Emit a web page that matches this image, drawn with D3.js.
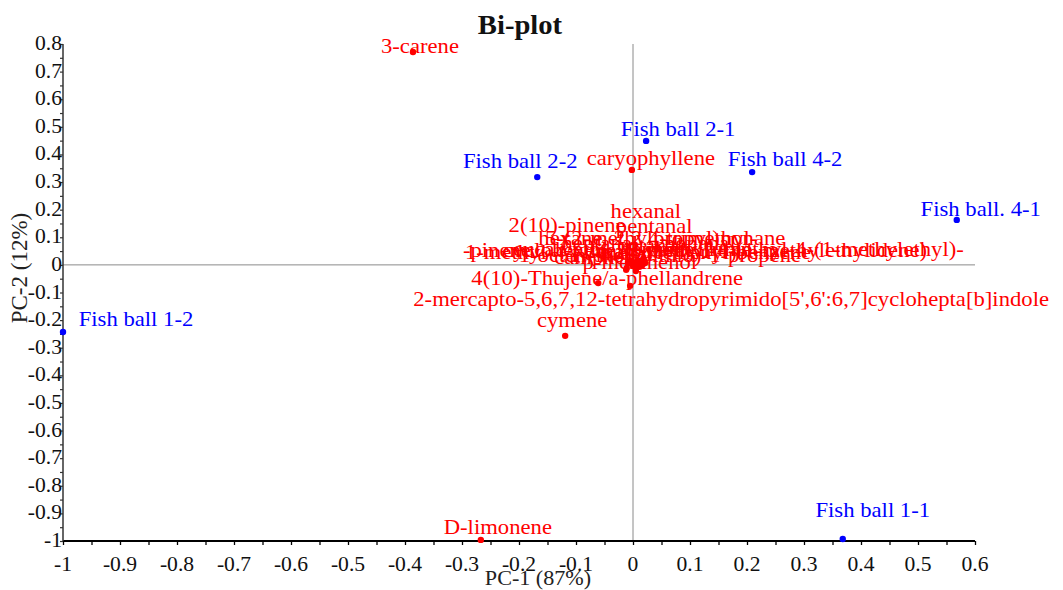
<!DOCTYPE html>
<html>
<head>
<meta charset="utf-8">
<script src="https://cdn.jsdelivr.net/npm/d3@7"></script>
<style>
  body { margin: 0; background: #fff; }
</style>
</head>
<body>
<svg id="chart" width="1063" height="590"></svg>
<script>
// ---- scores (samples) ----
const sampleNames = ["Fish ball 1-1", "Fish ball 1-2", "Fish ball 2-1", "Fish ball 2-2", "Fish ball 4-2", "Fish ball. 4-1"];
const samplePC1 = [0.368, -1.0, 0.023, -0.168, 0.209, 0.568];
const samplePC2 = [-0.993, -0.243, 0.449, 0.318, 0.336, 0.163];

// ---- loadings (volatile compounds) ----
const compoundNames = [
  "3-carene", "caryophyllene", "cymene", "D-limonene",
  "4(10)-Thujene/a-phellandrene",
  "2-mercapto-5,6,7,12-tetrahydropyrimido[5',6':6,7]cyclohepta[b]indole",
  "hexanal", "pentanal", "2(10)-pinene", "hexane, 2,2,4-trimethyl-",
  "5-(2-methylpropyl)nonane", "-pinene", "1-methyl-4-(1-methylethenyl)benzene",
  "benzene, 1-methyl-4-(1-methylethyl)-", "cyclohexene, 1-methyl-4-(1-methylethylidene)",
  "1-(methylthio)-1-propene", "p-menthenol", "heptanal", "octanal", "1-octen-3-ol",
  "2-pentylfuran", "camphene", "nonanal", "linalool", "eucalyptol"
];
const compoundPC1 = [
  -0.386, -0.002, -0.119, -0.267,
  -0.061,
  -0.005,
  0.012, 0.018, -0.005, 0.005,
  0.009, -0.009, 0.0,
  0.021, 0.014,
  0.011, 0.005, -0.002, 0.007, -0.011,
  0.016, -0.012, 0.019, 0.005, 0.002
];
const compoundPC2 = [
  0.771, 0.344, -0.257, -0.996,
  -0.066,
  -0.076,
  0.011, 0.022, 0.014, 0.003,
  -0.004, 0.007, -0.004,
  0.007, -0.004,
  -0.007, -0.022, 0.003, 0.011, -0.011,
  -0.001, -0.018, 0.011, -0.011, 0.007
];

// ---- axes ----
const xTicks = d3.range(-10, 7).map(i => i / 10);
const yTicks = d3.range(-10, 9).map(i => i / 10);
const xMinor = d3.range(-20, 13).map(i => i / 20);
const yMinor = d3.range(-20, 17).map(i => i / 20);

// label nudges in pixels: [dx of label centre, dy of baseline] relative to the point
const labelNudge = {
  "Fish ball 1-1": [30, -22], "Fish ball 1-2": [73, -6], "Fish ball 2-1": [32, -5],
  "Fish ball 2-2": [-17, -9], "Fish ball 4-2": [33, -6], "Fish ball. 4-1": [24, -4],
  "3-carene": [7, 1], "caryophyllene": [19, -5], "cymene": [7, -9], "D-limonene": [17, -6],
  "4(10)-Thujene/a-phellandrene": [9, 2],
  "2-mercapto-5,6,7,12-tetrahydropyrimido[5',6':6,7]cyclohepta[b]indole": [101, 20],
  "hexanal": [6, -44], "pentanal": [11, -26], "2(10)-pinene": [-63, -29],
  "hexane, 2,2,4-trimethyl-": [12, -19], "5-(2-methylpropyl)nonane": [27, -21],
  "-pinene": [-131, -6], "1-methyl-4-(1-methylethenyl)benzene": [5, -7],
  "benzene, 1-methyl-4-(1-methylethyl)-": [147, -7],
  "cyclohexene, 1-methyl-4-(1-methylethylidene)": [74, -9],
  "1-(methylthio)-1-propene": [46, -5], "p-menthenol": [4, -2], "heptanal": [-32, -14],
  "octanal": [13, -10], "1-octen-3-ol": [-52, -6], "2-pentylfuran": [48, -9],
  "camphene": [-26, -6], "nonanal": [56, -12], "linalool": [-11, -10], "eucalyptol": [-74, -7]
};

const FONT = "'Times New Roman', 'Liberation Serif', serif";
const SX = 1.08; // glyphs are drawn slightly wide
const svg = d3.select("#chart");
const x = d3.scaleLinear().domain([-1, 0.6]).range([63, 975]);
const y = d3.scaleLinear().domain([-1, 0.8]).range([541, 44]);
const fmt = v => String(Math.round(v * 10) / 10);

function wideText(g, px, py, str, size, anchor, fill, weight, rotate) {
  const t = g.append("text")
    .attr("transform", `translate(${px},${py}) scale(${rotate ? 1 : SX},1)` + (rotate ? ` rotate(${rotate})` : ""))
    .attr("font-family", FONT)
    .attr("font-size", size)
    .attr("text-anchor", anchor)
    .attr("fill", fill)
    .text(str);
  if (weight) t.attr("font-weight", weight);
  return t;
}

// zero reference lines
svg.append("line").attr("x1", x(0)).attr("x2", x(0)).attr("y1", y(0.8)).attr("y2", y(-1))
  .attr("stroke", "#8a8a8a").attr("stroke-width", 1);
svg.append("line").attr("x1", x(-1)).attr("x2", x(0.6)).attr("y1", y(0)).attr("y2", y(0))
  .attr("stroke", "#8a8a8a").attr("stroke-width", 1);

// x axis
const xAxis = svg.append("g").attr("transform", `translate(0,${y(-1)})`)
  .call(d3.axisBottom(x).tickValues(xMinor).tickSize(4).tickFormat(""));
xAxis.select(".domain").attr("stroke", "#000").attr("stroke-width", 2).attr("d", `M${x(-1)},0H${x(0.6)}`);
xAxis.selectAll(".tick line").attr("stroke", "#000").attr("stroke-width", 1.3);
xTicks.forEach(v => wideText(svg, x(v), 571, fmt(v), 20, "middle", "#111"));

// y axis
const yAxis = svg.append("g").attr("transform", `translate(${x(-1)},0)`)
  .call(d3.axisLeft(y).tickValues(yMinor).tickSize(3).tickFormat(""));
yAxis.select(".domain").attr("stroke", "#333").attr("stroke-width", 1.5).attr("d", `M0,${y(0.8)}V${y(-1)}`);
yAxis.selectAll(".tick line").attr("stroke", "#333").attr("stroke-width", 1.2);
yTicks.forEach(v => wideText(svg, x(-1) - 1, y(v) + 6, fmt(v), 20, "end", "#111"));

// titles
wideText(svg, 520, 34, "Bi-plot", 26.5, "middle", "#111", "bold");
wideText(svg, 538, 585, "PC-1 (87%)", 20.5, "middle", "#222");
wideText(svg, 27, 268, "PC-2 (12%)", 23, "middle", "#222", null, -90);

// points and labels
function drawSet(names, pc1, pc2, color) {
  const data = names.map((n, i) => ({ name: n, px: x(pc1[i]), py: y(pc2[i]) }));
  const g = svg.append("g");
  data.forEach(d => {
    const nudge = labelNudge[d.name] || [0, -5];
    wideText(g, d.px + nudge[0], d.py + nudge[1], d.name, 21, "middle", color);
  });
  g.selectAll("circle").data(data).join("circle")
    .attr("cx", d => d.px).attr("cy", d => d.py).attr("r", 3.2).attr("fill", color);
}
drawSet(compoundNames, compoundPC1, compoundPC2, "#ff0000");
drawSet(sampleNames, samplePC1, samplePC2, "#0000ff");
</script>
</body>
</html>
